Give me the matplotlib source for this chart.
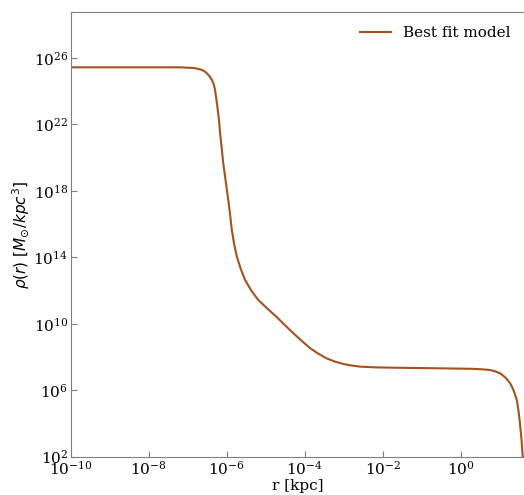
import matplotlib
matplotlib.use("Agg")
import matplotlib.pyplot as plt
import numpy as np

# profil de densite (log10 r [kpc], log10 rho)
log_r = [-10.0, -7.20, -6.85, -6.68, -6.58, -6.51, -6.44, -6.38, -6.33, -6.30,
         -6.27, -6.24, -6.20, -6.17, -6.13, -6.09, -6.03, -5.96, -5.91, -5.87,
         -5.81, -5.74, -5.64, -5.53, -5.37, -5.19, -4.95, -4.72, -4.50, -4.29,
         -4.07, -3.86, -3.65, -3.44, -3.22, -3.01, -2.80, -2.58, -2.20, -1.81,
         -0.53, 0.30, 0.55, 0.75, 0.88, 1.01, 1.14, 1.27, 1.36, 1.44,
         1.48, 1.52, 1.56, 1.59, 1.60]
log_rho = [25.44, 25.44, 25.40, 25.32, 25.22, 25.08, 24.90, 24.68, 24.40, 24.08,
           23.60, 23.07, 22.30, 21.49, 20.60, 19.68, 18.66, 17.45, 16.50, 15.65,
           14.80, 14.04, 13.30, 12.64, 12.00, 11.43, 10.90, 10.41, 9.90, 9.43,
           8.96, 8.53, 8.20, 7.92, 7.72, 7.58, 7.49, 7.42, 7.38, 7.36,
           7.32, 7.29, 7.26, 7.22, 7.14, 7.02, 6.78, 6.42, 5.98, 5.41,
           4.80, 4.01, 3.01, 2.00, 1.00]

r = 10.0 ** np.array(log_r)
rho = 10.0 ** np.array(log_rho)

plt.rcParams["font.family"] = "serif"
plt.rcParams["font.size"] = 10

fig = plt.figure(figsize=(5.24, 4.95), dpi=100)
ax = fig.add_axes([0.135, 0.0774, 0.865, 0.8976])

ax.plot(r, rho, color="#a3521f", lw=1.5, label="Best fit model")
ax.set_xscale("log")
ax.set_yscale("log")
ax.set_xlim(1e-10, 42)
ax.set_ylim(1e2, 5.6e28)

ax.set_xticks([10.0 ** k for k in range(-10, 1, 2)])
ax.set_yticks([10.0 ** k for k in range(2, 27, 4)])
ax.minorticks_off()
ax.tick_params(direction="in", color="gray", length=4, labelsize=11, pad=2)

for s in ["left", "bottom", "top"]:
    ax.spines[s].set_color("gray")
ax.spines["right"].set_visible(False)

ax.set_xlabel("r [kpc]", fontsize=11, labelpad=1)
ax.set_ylabel(r"$\rho(r)\ [M_{\odot}/kpc^3]$", fontsize=11, labelpad=1)
ax.legend(loc="upper right", frameon=False, fontsize=11)

fig.savefig("out.png", dpi=100)
